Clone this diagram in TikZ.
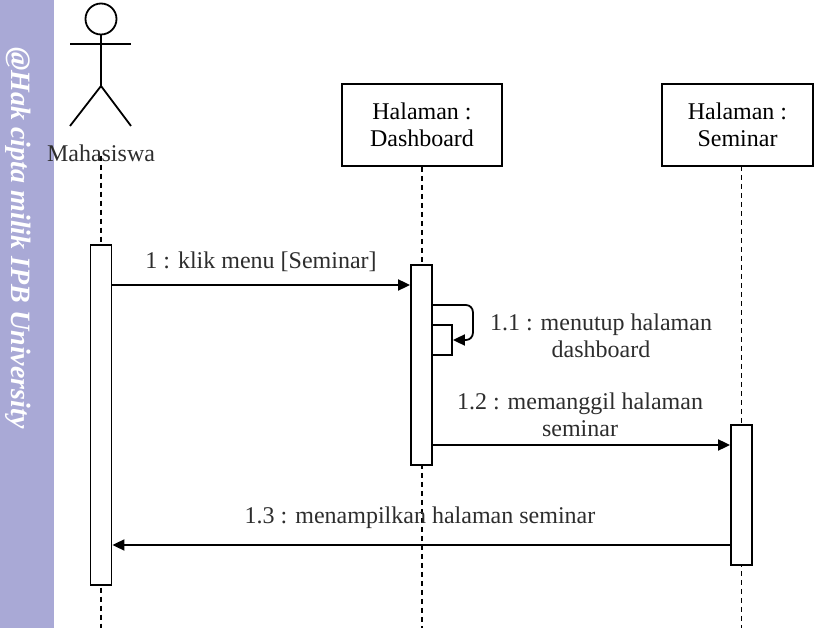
\documentclass[tikz,border=0pt]{standalone}
\usepackage{fontspec}
\setmainfont{Liberation Serif}
\usetikzlibrary{positioning,arrows.meta}
\definecolor{bandblue}{RGB}{169,169,214}
\definecolor{inkgray}{RGB}{45,45,45}
\tikzstyle{object} = [rectangle, minimum width=160pt, minimum height=82pt, align=center, draw=black, line width=1.8pt, inner sep=0pt]
\tikzstyle{activation} = [rectangle, minimum width=21pt, draw=black, fill=white, line width=1.8pt, inner sep=0pt]
\tikzstyle{lifeline} = [black, line width=1.5pt, dash pattern=on 5pt off 4pt]
\tikzstyle{message} = [line width=1.8pt, -{Triangle[length=12pt, width=11pt]}]
\tikzstyle{label} = [text=inkgray, align=center, inner sep=0pt]

\begin{document}
\begin{tikzpicture}[x=1pt, y=-1pt, font=\fontsize{24}{27.5}\selectfont]

        \useasboundingbox (0,0) rectangle (815,628);
        \fill [bandblue] (0,0) rectangle (54,628);
        \node (copyright) [rotate=-90, text=white, font=\fontsize{28}{28}\bfseries\itshape\selectfont] at (18,238) {@Hak cipta milik IPB University};

        % actor
        \draw [line width=1.8pt] (101,19) circle (15.5pt);
        \draw [line width=1.8pt] (70,44) -- (131,44);
        \draw [line width=1.8pt] (101,35) -- (101,86);
        \draw [line width=1.8pt] (70,126) -- (101,86) -- (131,126);
        \node (mhs) [label] at (101,153) {Mahasiswa};

        \node (dsb) [object] at (422,125) {Halaman :\\Dashboard};
        \node (smn) [object, minimum width=151pt] at (737.5,125) {Halaman :\\Seminar};

        \coordinate (bottom) at (0,628);
        \draw [lifeline] (mhs.south) ++(0,-6) -- (mhs |- bottom);
        \draw [lifeline] (dsb) -- (dsb |- bottom);
        \draw [lifeline] (741.5,166) -- (741.5,628);

        \node (actmhs) [activation, minimum height=340pt] at (101,415) {};
        \node (actdsb) [activation, minimum height=200pt] at (421.5,365) {};
        \node (nested) [activation, minimum width=20pt, minimum height=30pt] at (442,340) {};
        \node (actsmn) [activation, minimum height=140pt] at (741.5,495) {};

        \coordinate (m1) at (0,285);
        \coordinate (m11) at (0,305);
        \coordinate (m12) at (0,445);
        \coordinate (m13) at (0,545);

        \draw [message] (actmhs.east |- m1) -- (actdsb.west |- m1);
        \node (lbl1) [label] at (261,262) {1 : klik menu [Seminar]};

        \draw [message, rounded corners=7pt] (actdsb.east |- m11) -- ++(40,0) |- (nested.east);
        \node (lbl11) [label] at (601,336) {1.1 : menutup halaman\\dashboard};

        \draw [message] (actdsb.east |- m12) -- (actsmn.west |- m12);
        \node (lbl12) [label] at (580,415) {1.2 : memanggil halaman\\seminar};

        \draw [message] (actsmn.west |- m13) -- (actmhs.east |- m13);
        \node (lbl13) [label] at (420,518) {1.3 : menampilkan halaman seminar};

\end{tikzpicture}
\end{document}
